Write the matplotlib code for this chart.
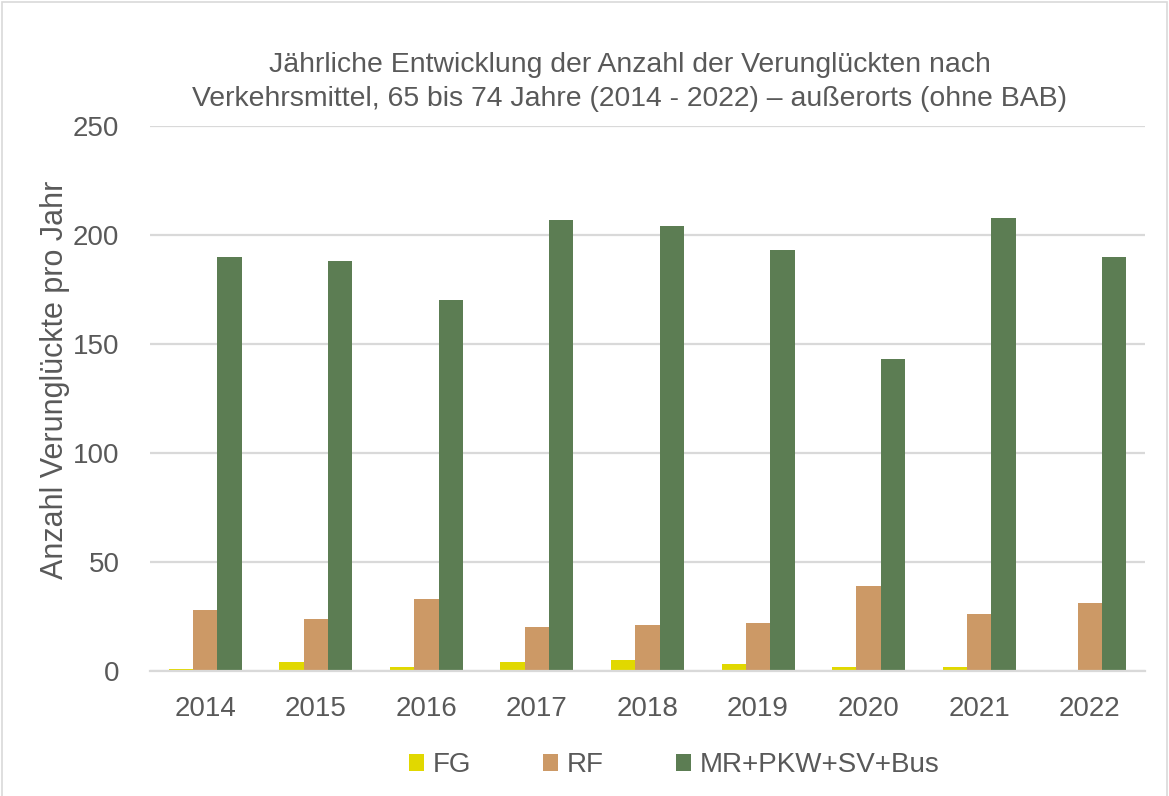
import matplotlib
matplotlib.use("Agg")
import matplotlib.pyplot as plt
import numpy as np
from matplotlib.patches import Rectangle, Patch

years = ["2014", "2015", "2016", "2017", "2018", "2019", "2020", "2021", "2022"]
fg = [1, 4, 2, 4, 5, 3, 2, 2, 0]
rf = [28, 24, 33, 20, 21, 22, 39, 26, 31]
mr = [190, 188, 170, 207, 204, 193, 143, 208, 190]
series_names = ["FG", "RF", "MR+PKW+SV+Bus"]
colors = ["#E1D800", "#CC9966", "#5C7D53"]
yticks = [0, 50, 100, 150, 200, 250]

plt.rcParams['font.family'] = ['Liberation Sans Narrow', 'Liberation Sans', 'DejaVu Sans']
txt = "#595959"

fig = plt.figure(figsize=(11.69, 7.96), dpi=100)
ax = fig.add_axes([150/1169, 1-671/796, (1145-150)/1169, (671-126)/796])

x = np.arange(len(years))
w = 0.22
for i, (vals, c, name) in enumerate(zip([fg, rf, mr], colors, series_names)):
    ax.bar(x + (i-1)*w, vals, width=w, color=c, label=name, zorder=3)

ax.set_xlim(-0.5, len(years)-0.5)
ax.set_ylim(0, 250)
ax.set_yticks(yticks)
ax.set_xticks(x)
ax.set_xticklabels(years)
ax.tick_params(axis='both', length=0, labelsize=20, colors=txt)
ax.tick_params(axis='x', pad=18)
ax.tick_params(axis='y', pad=22)
ax.grid(axis='y', color='#D9D9D9', linewidth=1.6, zorder=0)
for s in ['top', 'right', 'left']:
    ax.spines[s].set_visible(False)
ax.spines['bottom'].set_color('#D9D9D9')
ax.spines['bottom'].set_linewidth(1.6)
ax.spines['bottom'].set_zorder(4)

fig.text(630/1169, 1-82/796,
         "Jährliche Entwicklung der Anzahl der Verunglückten nach\nVerkehrsmittel, 65 bis 74 Jahre (2014 - 2022) – außerorts (ohne BAB)",
         ha='center', va='center', fontsize=20.4, color=txt, linespacing=1.4)
fig.text(55/1169, 1-380/796, "Anzahl Verunglückte pro Jahr", rotation=90,
         ha='center', va='center', fontsize=22, color=txt)

handles = [Patch(facecolor=c, edgecolor='none') for c in colors]
fig.legend(handles, series_names, loc='center', bbox_to_anchor=(674/1169, 1-765/796),
           ncol=3, frameon=False, fontsize=20, labelcolor=txt,
           handlelength=0.55, handleheight=0.55, handletextpad=0.3, columnspacing=2.6)

fig.patches.append(Rectangle((2/1169, -0.01), 1-4/1169, 1-2/796+0.01, transform=fig.transFigure,
                             fill=False, edgecolor='#D9D9D9', linewidth=1.2))

fig.savefig("out.png", dpi=100)
